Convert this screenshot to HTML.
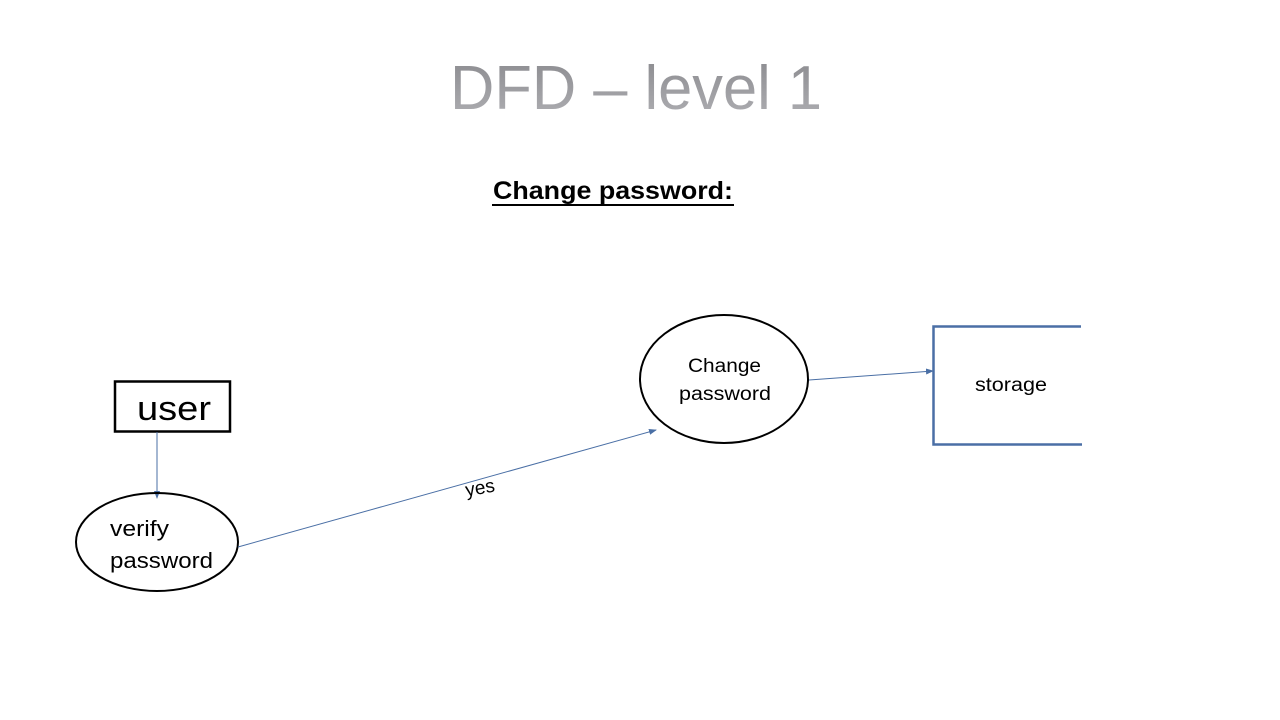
<!DOCTYPE html>
<html><head><meta charset="utf-8"><style>
html,body{margin:0;padding:0;background:#fff;}
svg{display:block;}
text{font-family:"Liberation Sans",sans-serif;}
</style></head><body>
<svg width="1280" height="720" viewBox="0 0 1280 720" xmlns="http://www.w3.org/2000/svg">
<defs>
<linearGradient id="g" x1="0" y1="0" x2="0" y2="1">
<stop offset="0" stop-color="#8a8a8e"/><stop offset="1" stop-color="#b0b0b4"/>
</linearGradient>
<marker id="a" markerWidth="8" markerHeight="8" refX="7" refY="4" orient="auto" markerUnits="userSpaceOnUse">
<path d="M0,1 L8,4 L0,7 z" fill="#4a6fa5"/>
</marker>
</defs>
<text x="636" y="109" text-anchor="middle" font-size="62" fill="url(#g)" textLength="372" lengthAdjust="spacingAndGlyphs">DFD – level 1</text>
<text x="613" y="199" text-anchor="middle" font-size="25" font-weight="bold" fill="#000" textLength="240" lengthAdjust="spacingAndGlyphs">Change password:</text>
<line x1="492" y1="205" x2="734" y2="205" stroke="#000" stroke-width="2"/>
<rect x="115" y="381.5" width="115" height="50" fill="none" stroke="#000" stroke-width="2.5"/>
<text x="137" y="420" font-size="34" fill="#000" textLength="74" lengthAdjust="spacingAndGlyphs">user</text>
<line x1="157" y1="432" x2="157" y2="498" stroke="#4a6fa5" stroke-width="1" marker-end="url(#a)"/>
<ellipse cx="157" cy="542" rx="81" ry="49" fill="none" stroke="#000" stroke-width="2"/>
<text x="110" y="536" font-size="22" fill="#000" textLength="59" lengthAdjust="spacingAndGlyphs">verify</text>
<text x="110" y="568" font-size="22" fill="#000" textLength="103" lengthAdjust="spacingAndGlyphs">password</text>
<line x1="238" y1="547" x2="656" y2="430" stroke="#4a6fa5" stroke-width="1" marker-end="url(#a)"/>
<text x="480" y="494" text-anchor="middle" font-size="19" fill="#000" transform="rotate(-10 480 488)">yes</text>
<ellipse cx="724" cy="379" rx="84" ry="64" fill="none" stroke="#000" stroke-width="2"/>
<text x="688" y="372" font-size="19" fill="#000" textLength="73" lengthAdjust="spacingAndGlyphs">Change</text>
<text x="679" y="400" font-size="19" fill="#000" textLength="92" lengthAdjust="spacingAndGlyphs">password</text>
<line x1="809" y1="380" x2="933" y2="371" stroke="#4a6fa5" stroke-width="1" marker-end="url(#a)"/>
<path d="M1081,326.5 H933.5 V444.5 H1082" fill="none" stroke="#4a6fa5" stroke-width="2.5"/>
<text x="975" y="391" font-size="19" fill="#000" textLength="72" lengthAdjust="spacingAndGlyphs">storage</text>
</svg>
</body></html>
